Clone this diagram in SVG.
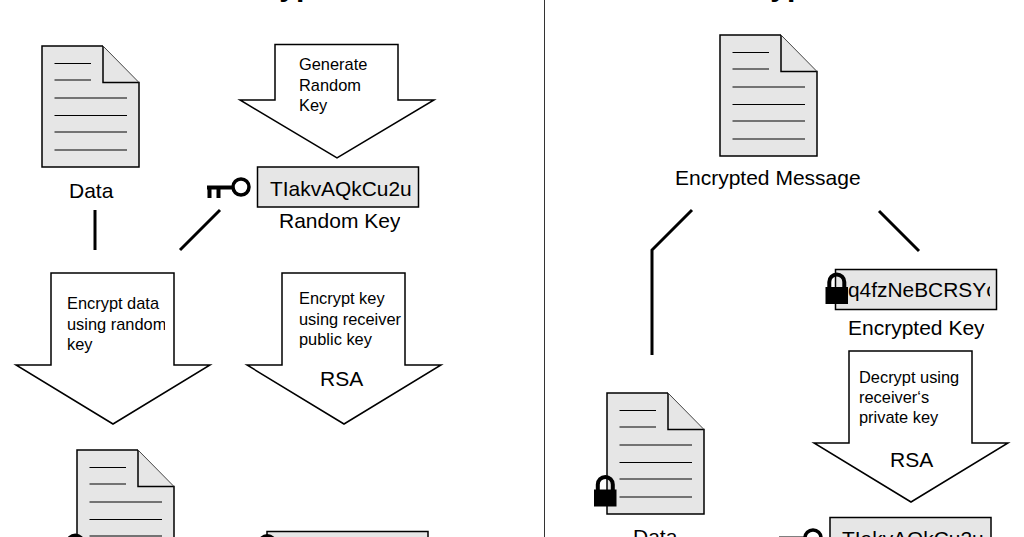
<svg xmlns="http://www.w3.org/2000/svg" xmlns:xlink="http://www.w3.org/1999/xlink" width="1024" height="537" viewBox="0 0 1024 537">
<style>
text{font-family:"Liberation Sans",Arial,sans-serif;fill:#000}
.t{font-size:16.4px}
.l{font-size:21px}
.b{font-size:20.9px}
.title{font-size:30px;font-weight:700;text-anchor:middle}
.doc{fill:#e6e6e6;stroke:none}
.edge{fill:none;stroke:#000;stroke-width:1.500}
.diag{fill:none;stroke:#444;stroke-width:1}
.ln{stroke:#000;stroke-width:1;fill:none}
.ar{fill:#fff;stroke:#000;stroke-width:1.500}
.box{fill:#e6e6e6;stroke:#000;stroke-width:1.500}
.c{fill:none;stroke:#000;stroke-width:3}
</style>
<defs>
<g id="d">
<path class="doc" d="M0 0H61L97 36.500V121H0Z"/>
<path class="edge" d="M61 0H0V121H97V36.500H61V0"/>
<path class="diag" d="M61 0L97 36.500"/>
<path class="ln" d="M12.500 17.500H49M12.500 34H49M12.500 52H85M12.500 69.500H85M12.500 86H85M12.500 104H85"/>
</g>
<g id="lock">
<path d="M3.800 15V9.500A7.500 7.500 0 0 1 18.800 9.500V15" fill="none" stroke="#000" stroke-width="4"/>
<rect x="0" y="14.500" width="22.500" height="17" fill="#000"/>
</g>
<g id="key">
<circle cx="34" cy="8" r="8" fill="#fff" stroke="#000" stroke-width="3.500"/>
<path d="M0 8.500H26M2.500 8.500V19M11.500 8.500V19" fill="none" stroke="#000" stroke-width="4"/>
</g>
<clipPath id="c1"><rect x="60" y="280" width="105" height="80"/></clipPath>
<clipPath id="c2"><rect x="270" y="205" width="130.300" height="30"/></clipPath>
<clipPath id="c3"><rect x="840" y="272" width="150" height="36"/></clipPath>
<clipPath id="c4"><rect x="840" y="315" width="144.300" height="30"/></clipPath>
</defs>
<path d="M544.500 0V537" stroke="#333" stroke-width="1" fill="none"/>
<g id="titles">
<text class="title" x="291" y="-4">Encryption</text>
<text class="title" x="782" y="-4">Decryption</text>
</g>
<g id="connectors">
<path class="c" d="M95 210V250"/>
<path class="c" d="M220 210L180 250"/>
<path class="c" d="M692 210L652 250V355"/>
<path class="c" d="M879 211L919 251"/>
</g>
<g id="node-data">
<use xlink:href="#d" x="42" y="46"/>
<text class="l" x="69" y="198">Data</text>
</g>
<g id="node-generate">
<path class="ar" d="M275 44.500H398V100H434L337 158L240 100H275Z"/>
<text class="t" x="299" y="70">Generate</text>
<text class="t" x="299" y="91">Random</text>
<text class="t" x="299" y="111">Key</text>
</g>
<g id="node-random-key">
<use xlink:href="#key" x="207" y="179"/>
<rect class="box" x="257.500" y="167" width="161" height="40"/>
<text class="b" x="270" y="196">TIakvAQkCu2u</text>
<text class="l" x="279" y="228" clip-path="url(#c2)">Random Key</text>
</g>
<g id="node-encrypt-data">
<path class="ar" d="M51 273H174V365H210L113 424L16 365H51Z"/>
<text class="t" x="67" y="309">Encrypt data</text>
<text class="t" x="67" y="330" clip-path="url(#c1)">using random</text>
<text class="t" x="67" y="350">key</text>
</g>
<g id="node-encrypt-key">
<path class="ar" d="M282 273H405V365H441L344 424L247 365H282Z"/>
<text class="t" x="299" y="304">Encrypt key</text>
<text class="t" x="299" y="325">using receiver</text>
<text class="t" x="299" y="345">public key</text>
<text class="l" x="320" y="386">RSA</text>
</g>
<g id="node-encrypted-data">
<use xlink:href="#d" x="77" y="450"/>
<use xlink:href="#lock" x="64" y="533.500"/>
</g>
<g id="node-encrypted-key-left">
<rect class="box" x="267" y="531.500" width="161" height="40"/>
<use xlink:href="#lock" x="256" y="534"/>
</g>
<g id="node-encrypted-message">
<use xlink:href="#d" x="720" y="35"/>
<text class="l" x="675" y="185">Encrypted Message</text>
</g>
<g id="node-encrypted-key">
<rect class="box" x="835.500" y="269.500" width="161" height="40"/>
<text class="b" x="848" y="297" clip-path="url(#c3)">q4fzNeBCRSYc</text>
<use xlink:href="#lock" x="825.500" y="272.500"/>
<text class="l" x="848" y="335" clip-path="url(#c4)">Encrypted Key</text>
</g>
<g id="node-decrypt">
<path class="ar" d="M849 351H972V443H1008L911 502L814 443H849Z"/>
<text class="t" x="859" y="383">Decrypt using</text>
<text class="t" x="859" y="403">receiver‘s</text>
<text class="t" x="859" y="423">private key</text>
<text class="l" x="890" y="467">RSA</text>
</g>
<g id="node-data-encrypted">
<use xlink:href="#d" x="607" y="393"/>
<use xlink:href="#lock" x="594" y="475"/>
<text class="l" x="633" y="544">Data</text>
</g>
<g id="node-random-key-right">
<use xlink:href="#key" x="779" y="530"/>
<rect class="box" x="830" y="517.500" width="161" height="40"/>
<text class="b" x="842" y="546">TIakvAQkCu2u</text>
</g>
</svg>
